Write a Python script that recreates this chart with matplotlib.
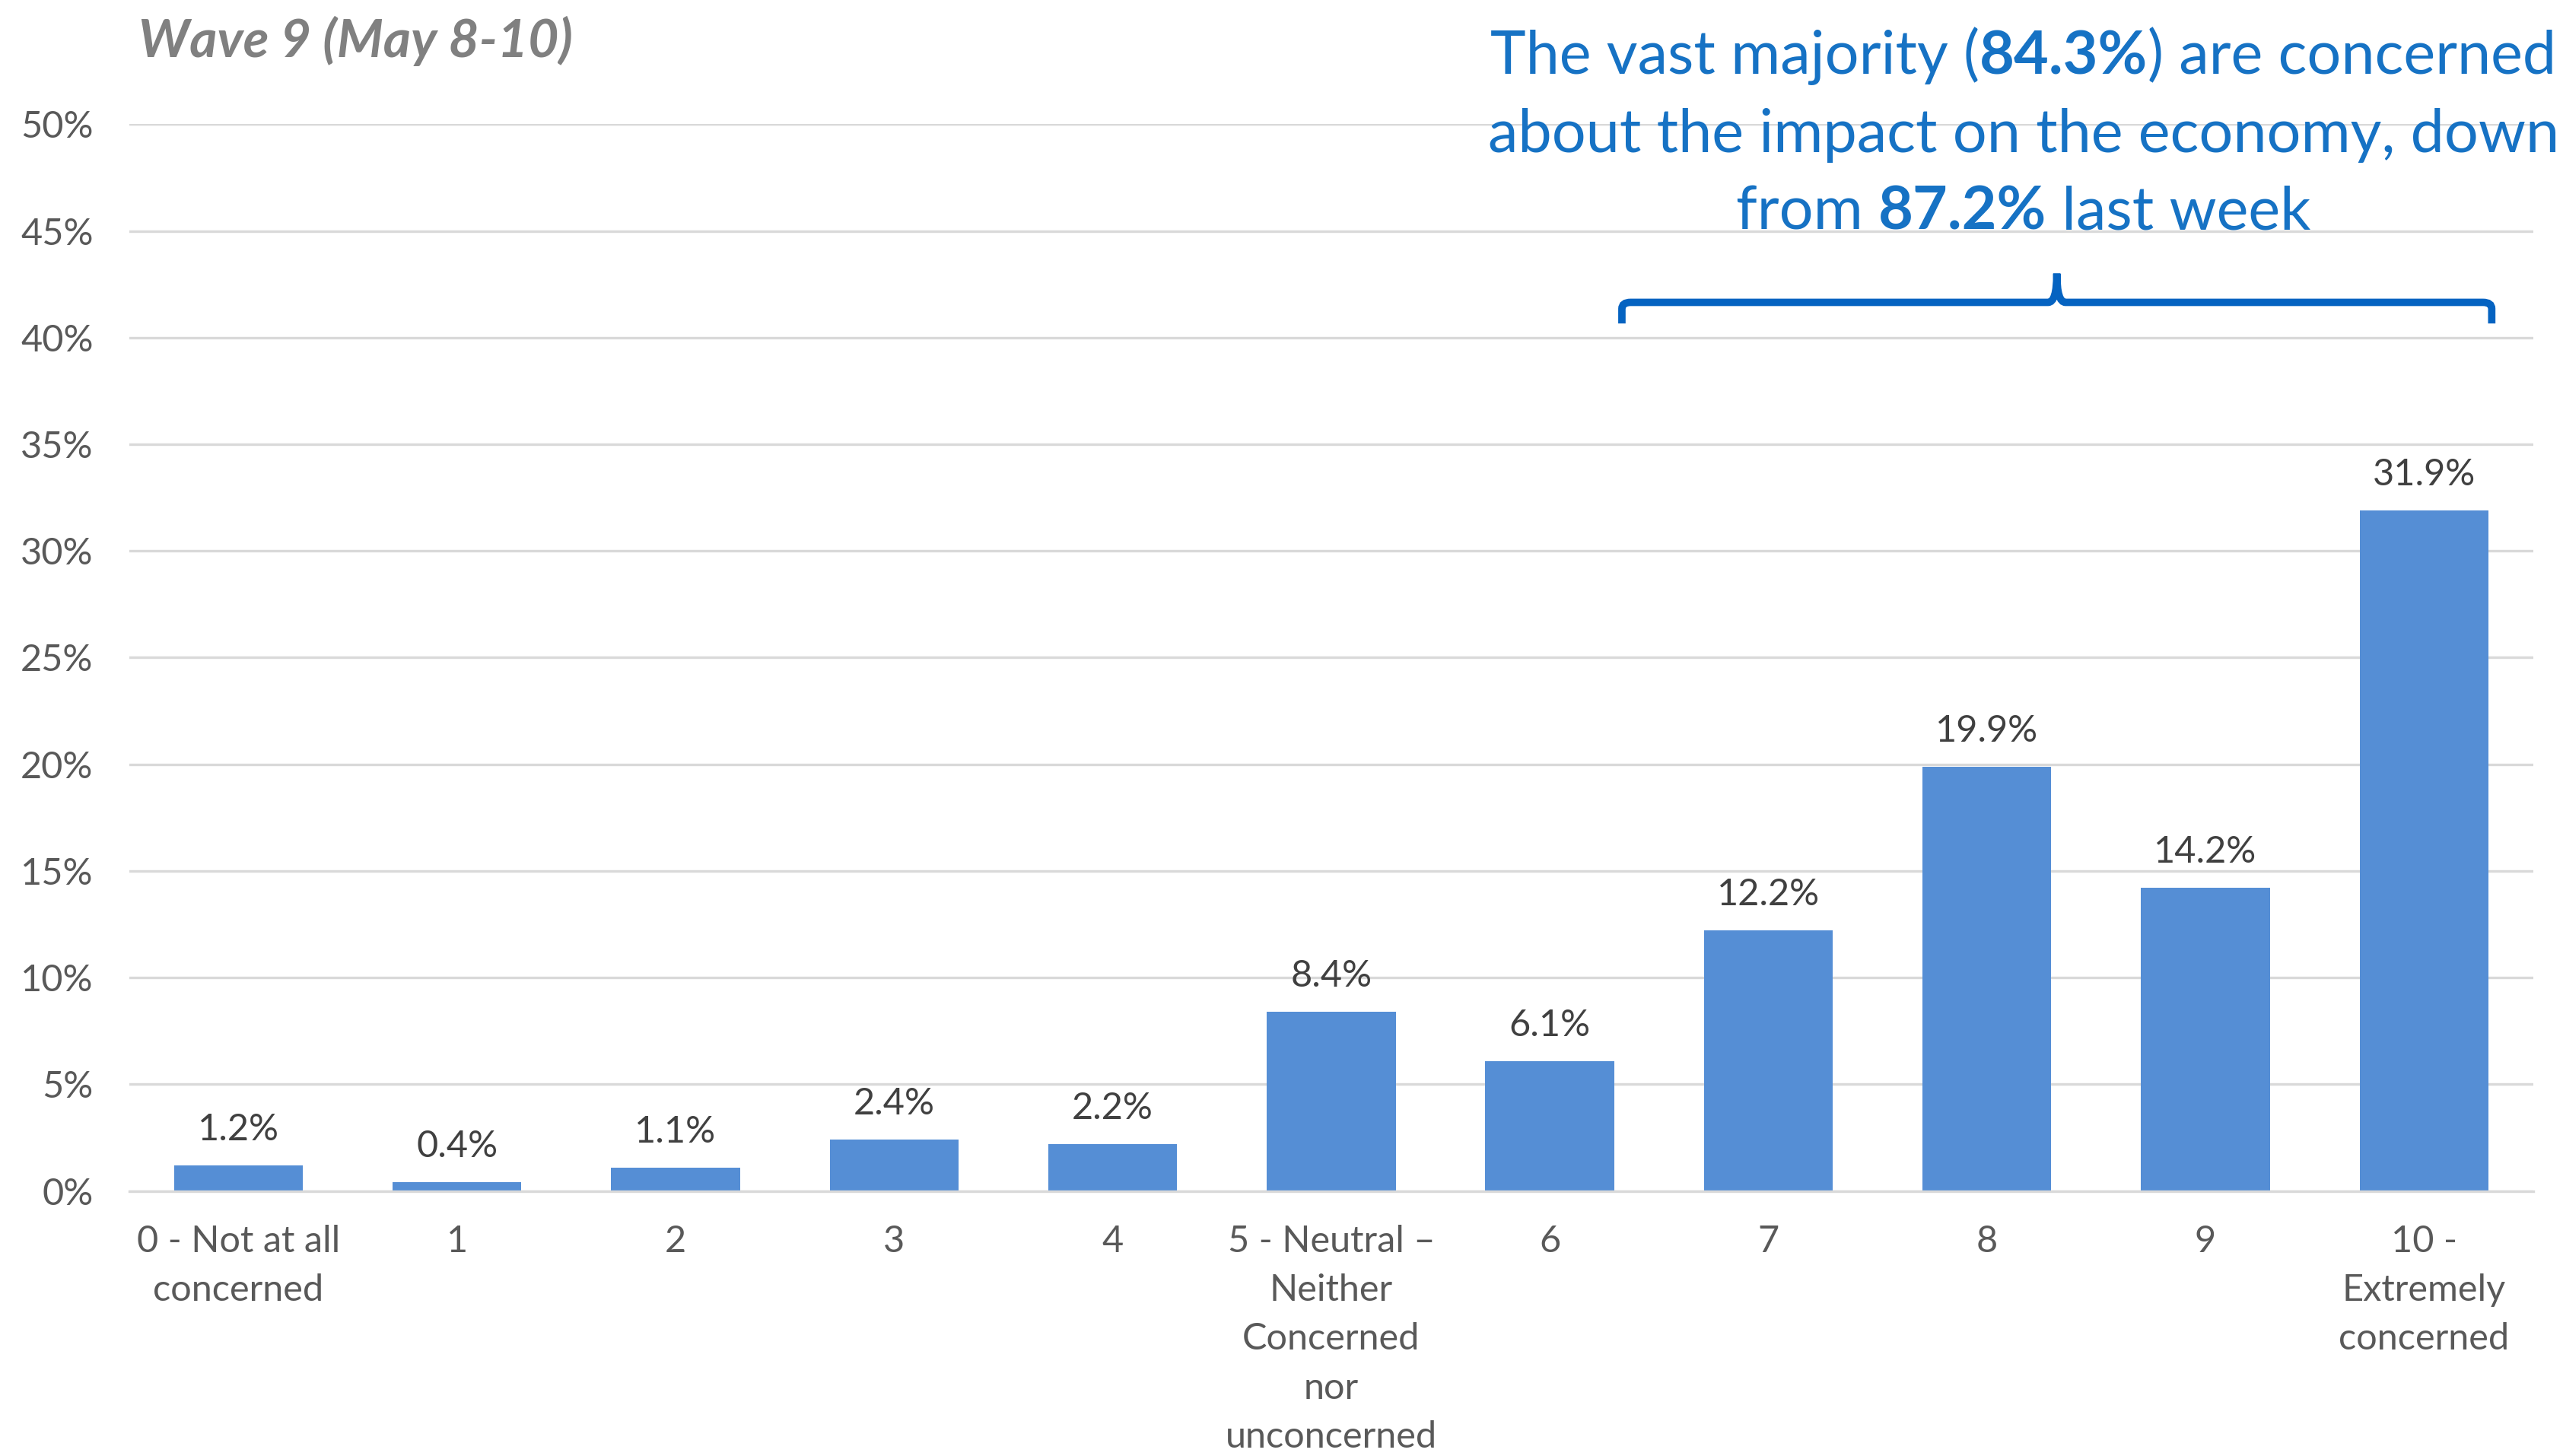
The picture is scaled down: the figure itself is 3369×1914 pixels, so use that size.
import matplotlib
matplotlib.use("Agg")
import matplotlib.pyplot as plt
from matplotlib.path import Path
from matplotlib.patches import PathPatch

categories = ["0 - Not at all\nconcerned", "1", "2", "3", "4",
              "5 - Neutral –\nNeither\nConcerned\nnor\nunconcerned",
              "6", "7", "8", "9", "10 -\nExtremely\nconcerned"]
values = [1.2, 0.4, 1.1, 2.4, 2.2, 8.4, 6.1, 12.2, 19.9, 14.2, 31.9]
yticks = [0, 5, 10, 15, 20, 25, 30, 35, 40, 45, 50]
title = "Wave 9 (May 8-10)"
note_lines = [
    [("The vast majority (", "normal"), ("84.3%", "bold"), (") are concerned", "normal")],
    [("about the impact on the economy, down", "normal")],
    [("from ", "normal"), ("87.2%", "bold"), (" last week", "normal")],
]

FONT = "Lato"
BAR = "#558ED5"
GRID = "#D9D9D9"
TXT = "#404040"
BLUE = "#1672C4"

plt.rcParams["font.family"] = [FONT, "DejaVu Sans"]
fig = plt.figure(figsize=(16.845, 9.57), dpi=200)
ax = fig.add_axes([0.0504, 0.182, 0.938, 0.7327])

x = list(range(len(values)))
ax.bar(x, values, width=0.59, color=BAR, zorder=2)
for xi, v in zip(x, values):
    ax.annotate(f"{v:.1f}%", (xi, v), xytext=(0, 9), textcoords="offset points",
                ha="center", va="bottom", fontsize=17.5, color=TXT)

ax.set_xlim(-0.5, len(values) - 0.5)
ax.set_ylim(0, 50)
ax.set_yticks(yticks)
ax.set_yticklabels([f"{t}%" for t in yticks], fontsize=17.5, color="#595959")
ax.set_xticks(x)
ax.set_xticklabels(categories, fontsize=17.5, color="#595959", linespacing=1.56)
ax.tick_params(axis="both", length=0)
ax.tick_params(axis="y", pad=17)
ax.tick_params(axis="x", pad=16)
ax.yaxis.grid(True, color=GRID, lw=1.2, zorder=0)
for s in ["top", "right", "left"]:
    ax.spines[s].set_visible(False)
ax.spines["bottom"].set_color(GRID)
ax.spines["bottom"].set_linewidth(1.2)

fig.text(0.054, 0.972, title, fontsize=25, fontweight="bold", fontstyle="italic",
         color="#808080", ha="left", va="center")

# mixed-weight centred annotation lines
r = fig.canvas.get_renderer()
W = fig.bbox.width


def seg_width(s, w, size):
    a = fig.text(0, 0, "x" + s + "x", fontsize=size, fontweight=w)
    b = fig.text(0, 0, "xx", fontsize=size, fontweight=w)
    d = a.get_window_extent(r).width - b.get_window_extent(r).width
    a.remove(); b.remove()
    return d


NSIZE = 28.5
xc = 0.7895
for yb, parts in zip([1 - 97 / 1914, 1 - 200 / 1914, 1 - 301 / 1914], note_lines):
    widths = [seg_width(s, w, NSIZE) for s, w in parts]
    xpix = xc * W - sum(widths) / 2
    for (s, w), wd in zip(parts, widths):
        fig.text(xpix / W, yb, s, fontsize=NSIZE, fontweight=w, color=BLUE,
                 ha="left", va="baseline")
        xpix += wd

# brace over scores 6-10
x0, x1, xm = 6.33, 10.31, 8.32
yb_, yh, yt = 40.66, 41.65, 43.0
verts = [(x0, yb_), (x0, yh - 0.3), (x0, yh), (x0 + 0.04, yh), (xm - 0.04, yh),
         (xm, yh), (xm, yt), (xm, yh), (xm + 0.04, yh), (x1 - 0.04, yh),
         (x1, yh), (x1, yh - 0.3), (x1, yb_)]
codes = [Path.MOVETO, Path.LINETO, Path.CURVE3, Path.CURVE3, Path.LINETO,
         Path.CURVE3, Path.CURVE3, Path.CURVE3, Path.CURVE3, Path.LINETO,
         Path.CURVE3, Path.CURVE3, Path.LINETO]
ax.add_patch(PathPatch(Path(verts, codes), fill=False, edgecolor="#0563C1", lw=3.5,
                       clip_on=False, zorder=3))

fig.savefig("out.png", dpi=200)
